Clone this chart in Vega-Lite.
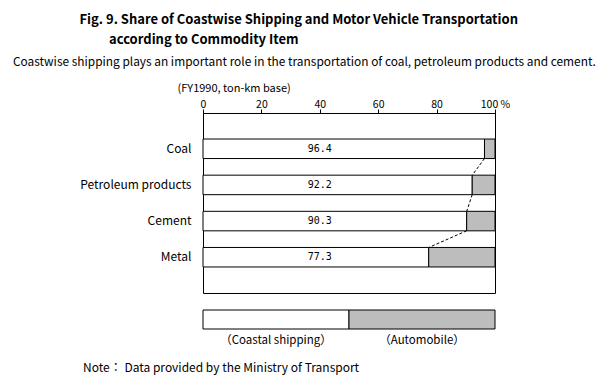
{
  "$schema": "https://vega.github.io/schema/vega-lite/v6.json",
  "background": "white",
  "padding": {"left": 12, "top": 13, "right": 8, "bottom": 8},
  "title": {
    "text": ["Fig. 9. Share of Coastwise Shipping and Motor Vehicle Transportation", "\u200b\u00a0\u00a0\u00a0\u00a0\u00a0\u00a0\u00a0\u00a0\u00a0\u00a0according to Commodity Item"],
    "anchor": "start",
    "align": "left",
    "dx": 67,
    "font": "Noto Sans CJK JP",
    "fontSize": 13,
    "fontWeight": "bold",
    "lineHeight": 20,
    "color": "black",
    "offset": 9
  },
  "config": {
    "font": "Noto Sans CJK JP",
    "view": {"stroke": "black", "strokeWidth": 1},
    "axis": {"labelColor": "black", "titleColor": "black", "domainColor": "black", "tickColor": "black"}
  },
  "bounds": "flush",
  "spacing": 17,
  "vconcat": [
    {
      "width": 292,
      "height": 180,
      "title": {
        "text": "Coastwise shipping plays an important role in the transportation of coal, petroleum products and cement.",
        "anchor": "start",
        "frame": "group",
        "dx": -190,
        "fontSize": 11.9,
        "fontWeight": "normal",
        "color": "black",
        "offset": 13
      },
      "data": {
        "values": [
          {"item": "Coal", "shipping": 96.4},
          {"item": "Petroleum products", "shipping": 92.2},
          {"item": "Cement", "shipping": 90.3},
          {"item": "Metal", "shipping": 77.3}
        ]
      },
      "encoding": {
        "y": {
          "field": "item",
          "type": "nominal",
          "sort": null,
          "scale": {"paddingInner": 0.46, "paddingOuter": 0.72},
          "axis": {"title": null, "domain": false, "ticks": false, "labelPadding": 12, "labelFontSize": 12, "labelColor": "black"}
        }
      },
      "layer": [
        {
          "mark": {"type": "bar", "fill": "white", "stroke": "black", "strokeWidth": 1},
          "encoding": {
            "x": {
              "field": "shipping",
              "type": "quantitative",
              "scale": {"domain": [0, 100], "nice": false},
              "axis": {
                "orient": "top",
                "values": [0, 10, 20, 30, 40, 50, 60, 70, 80, 90, 100],
                "labelExpr": "datum.value % 20 == 0 ? (datum.value == 100 ? '100 %' : datum.label) : ''",
                "labelFlush": false,
                "labelOverlap": false,
                "labelFontSize": 10.5,
                "labelPadding": 0,
                "tickSize": 4,
                "grid": false,
                "title": "(FY1990, ton-km base)",
                "titleX": -26,
                "titleY": -25,
                "titleAlign": "left",
                "titleBaseline": "middle",
                "titleFontWeight": "normal",
                "titleFontSize": 11
              }
            }
          }
        },
        {
          "mark": {"type": "bar", "fill": "#bdbdbd", "stroke": "black", "strokeWidth": 1},
          "encoding": {
            "x": {"field": "shipping", "type": "quantitative"},
            "x2": {"datum": 100}
          }
        },
        {
          "transform": [
            {"window": [{"op": "lead", "field": "item", "as": "nextItem"}, {"op": "lead", "field": "shipping", "as": "nextShipping"}]},
            {"filter": "datum.nextItem != null"}
          ],
          "mark": {"type": "rule", "strokeDash": [3, 2], "color": "black", "strokeWidth": 1, "yOffset": 9.7, "y2Offset": -9.7},
          "encoding": {
            "x": {"field": "shipping", "type": "quantitative"},
            "x2": {"field": "nextShipping"},
            "y": {"field": "item", "type": "nominal", "sort": null},
            "y2": {"field": "nextItem"}
          }
        },
        {
          "mark": {"type": "text", "font": "DejaVu Sans Mono", "fontSize": 10, "color": "black"},
          "encoding": {
            "x": {"datum": 40},
            "text": {"field": "shipping", "type": "quantitative", "format": ".1f"}
          }
        }
      ]
    },
    {
      "width": 292,
      "height": 19,
      "view": {"stroke": null},
      "title": {
        "text": "Note\uff1a Data provided by the Ministry of Transport",
        "orient": "bottom",
        "anchor": "start",
        "frame": "group",
        "dx": -120,
        "offset": 17,
        "fontSize": 12,
        "fontWeight": "normal",
        "color": "black"
      },
      "data": {
        "values": [
          {"mode": "Coastal shipping", "start": 0, "end": 50},
          {"mode": "Automobile", "start": 50, "end": 100}
        ]
      },
      "layer": [
        {
          "mark": {"type": "bar", "stroke": "black", "strokeWidth": 1},
          "encoding": {
            "x": {"field": "start", "type": "quantitative", "scale": {"domain": [0, 100], "nice": false}, "axis": null},
            "x2": {"field": "end"},
            "y": {"datum": "legend", "type": "nominal", "scale": {"paddingInner": 0, "paddingOuter": 0}, "axis": null},
            "fill": {"field": "mode", "type": "nominal", "scale": {"domain": ["Coastal shipping", "Automobile"], "range": ["white", "#bdbdbd"]}, "legend": null}
          }
        },
        {
          "transform": [
            {"calculate": "(datum.start + datum.end) / 2", "as": "mid"},
            {"calculate": "'（' + datum.mode + '）'", "as": "label"}
          ],
          "mark": {"type": "text", "dy": 21, "fontSize": 11.5, "color": "black"},
          "encoding": {
            "x": {"field": "mid", "type": "quantitative"},
            "text": {"field": "label"}
          }
        }
      ]
    }
  ]
}
